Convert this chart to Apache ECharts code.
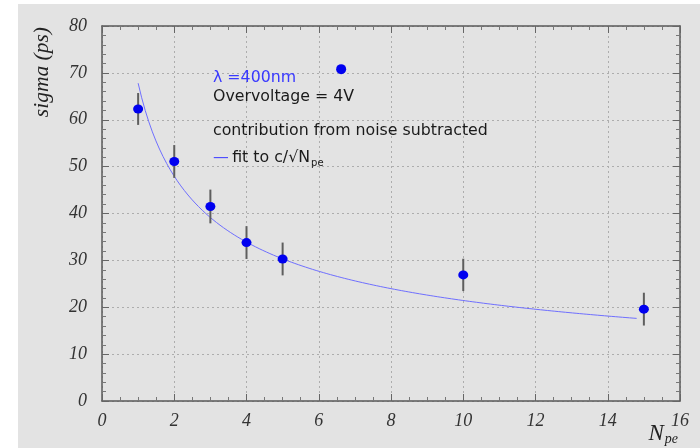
<!DOCTYPE html>
<html>
<head>
<meta charset="utf-8">
<script src="https://cdn.jsdelivr.net/npm/echarts@6/dist/echarts.min.js"></script>
<style>
  html, body { margin: 0; padding: 0; background: #ffffff; }
  #chart { width: 700px; height: 448px; }
</style>
</head>
<body>
<div id="chart"></div>
<script>
// Time resolution versus number of photoelectrons
const nPe = [1, 2, 3, 4, 5, 10, 15];
const sigmaPs = [62.3, 51.1, 41.5, 33.8, 30.3, 26.9, 19.6];
const sigmaErr = [3.4, 3.5, 3.6, 3.5, 3.5, 3.45, 3.5];
// single marker without error bar
const extraPoint = [[6.62, 70.8]];
// fit sigma = c / sqrt(N_pe)
const fitC = 67.8;
const fitRange = [1, 14.8];

const xTicks = { min: 0, max: 16, interval: 2 };
const yTicks = { min: 0, max: 80, interval: 10 };

const fitLine = [];
for (let i = 0; i <= 140; i++) {
  const n = fitRange[0] + (fitRange[1] - fitRange[0]) * i / 140;
  fitLine.push([n, fitC / Math.sqrt(n)]);
}

const points = nPe.map((n, i) => [n, sigmaPs[i]]);
const errBars = nPe.map((n, i) => [n, sigmaPs[i], sigmaErr[i]]);

const frame = '#5a5a5a';
const labelFont = {
  fontFamily: 'Liberation Serif',
  fontStyle: 'italic',
  fontSize: 18,
  color: '#333333'
};
const textFont = '15.8px "DejaVu Sans"';

function axisCommon(extra) {
  return Object.assign({
    type: 'value',
    axisLine: { show: true, onZero: false, lineStyle: { color: frame, width: 1.5 } },
    axisTick: { show: true, inside: true, length: 7, lineStyle: { color: '#666666', width: 1 } },
    minorTick: { show: true, length: 4, lineStyle: { color: '#777777', width: 1 } },
    minorSplitLine: { show: false }
  }, extra);
}

const chart = echarts.init(document.getElementById('chart'), null, { renderer: 'canvas' });
chart.setOption({
  animation: false,
  backgroundColor: '#ffffff',
  graphic: [
    { type: 'rect', left: 18, top: 4, z: -10, shape: { width: 682, height: 444 }, style: { fill: '#e3e3e3' }, silent: true },
    {
      type: 'text', left: 31, top: 27, rotation: Math.PI / 2, z: 10,
      style: { text: 'sigma (ps)', font: 'italic 21.5px "Liberation Serif"', fill: '#222222' }
    },
    {
      type: 'text', right: 22, top: 422, z: 10,
      style: {
        text: '{n|N}{s|pe}',
        rich: {
          n: { font: 'italic 23px "Liberation Serif"', fill: '#222222' },
          s: { font: 'italic 14px "Liberation Serif"', fill: '#222222', padding: [12, 0, 0, 1] }
        }
      }
    },
    {
      type: 'text', left: 213, top: 70, z: 10,
      style: { text: 'λ =400nm', font: textFont, fill: '#3a3aff' }
    },
    {
      type: 'text', left: 213, top: 89, z: 10,
      style: { text: 'Overvoltage = 4V', font: textFont, fill: '#1a1a1a' }
    },
    {
      type: 'text', left: 213, top: 122.5, z: 10,
      style: { text: 'contribution from noise subtracted', font: textFont, fill: '#1a1a1a' }
    },
    {
      type: 'text', left: 213, top: 150, z: 10,
      style: {
        text: '{d|—} {t|fit to c/√N}{s|pe}',
        rich: {
          d: { font: textFont, fill: '#4a4aff' },
          t: { font: textFont, fill: '#1a1a1a' },
          s: { font: '10px "DejaVu Sans"', fill: '#1a1a1a', padding: [11, 0, 0, 1] }
        }
      }
    }
  ],
  grid: { left: 102, top: 26, width: 578, height: 375, containLabel: false },
  xAxis: [
    axisCommon({
      position: 'bottom', min: xTicks.min, max: xTicks.max, interval: xTicks.interval,
      minorTick: { show: true, splitNumber: 4, length: 4, lineStyle: { color: '#777777' } },
      splitLine: { show: true, lineStyle: { type: [2, 3], color: '#adadad', width: 1 } },
      axisLabel: Object.assign({ margin: 11 }, labelFont)
    }),
    axisCommon({
      position: 'top', min: xTicks.min, max: xTicks.max, interval: xTicks.interval,
      minorTick: { show: true, splitNumber: 4, length: 4, lineStyle: { color: '#777777' } },
      splitLine: { show: false },
      axisLabel: { show: false }
    })
  ],
  yAxis: [
    axisCommon({
      position: 'left', min: yTicks.min, max: yTicks.max, interval: yTicks.interval,
      minorTick: { show: true, splitNumber: 5, length: 4, lineStyle: { color: '#777777' } },
      splitLine: { show: true, lineStyle: { type: [2, 3], color: '#adadad', width: 1 } },
      axisLabel: Object.assign({ margin: 15 }, labelFont)
    }),
    axisCommon({
      position: 'right', min: yTicks.min, max: yTicks.max, interval: yTicks.interval,
      minorTick: { show: true, splitNumber: 5, length: 4, lineStyle: { color: '#777777' } },
      splitLine: { show: false },
      axisLabel: { show: false }
    })
  ],
  series: [
    {
      name: 'fit',
      type: 'line',
      data: fitLine,
      showSymbol: false,
      smooth: false,
      lineStyle: { color: '#6f6fff', width: 1 },
      z: 2
    },
    {
      name: 'errors',
      type: 'custom',
      data: errBars,
      z: 3,
      renderItem: function (params, api) {
        const x = api.value(0), y = api.value(1), e = api.value(2);
        const p1 = api.coord([x, y - e]);
        const p2 = api.coord([x, y + e]);
        return {
          type: 'line',
          shape: { x1: p1[0], y1: p1[1], x2: p2[0], y2: p2[1] },
          style: { stroke: '#5e5e5e', lineWidth: 2 }
        };
      }
    },
    {
      name: 'sigma',
      type: 'scatter',
      data: points,
      symbol: 'circle',
      symbolSize: [10, 9],
      itemStyle: { color: '#0000f0', opacity: 1 },
      z: 4
    },
    {
      name: 'marker',
      type: 'scatter',
      data: extraPoint,
      symbol: 'circle',
      symbolSize: [10, 10],
      itemStyle: { color: '#0000f0', opacity: 1 },
      z: 4
    }
  ]
});
</script>
</body>
</html>
